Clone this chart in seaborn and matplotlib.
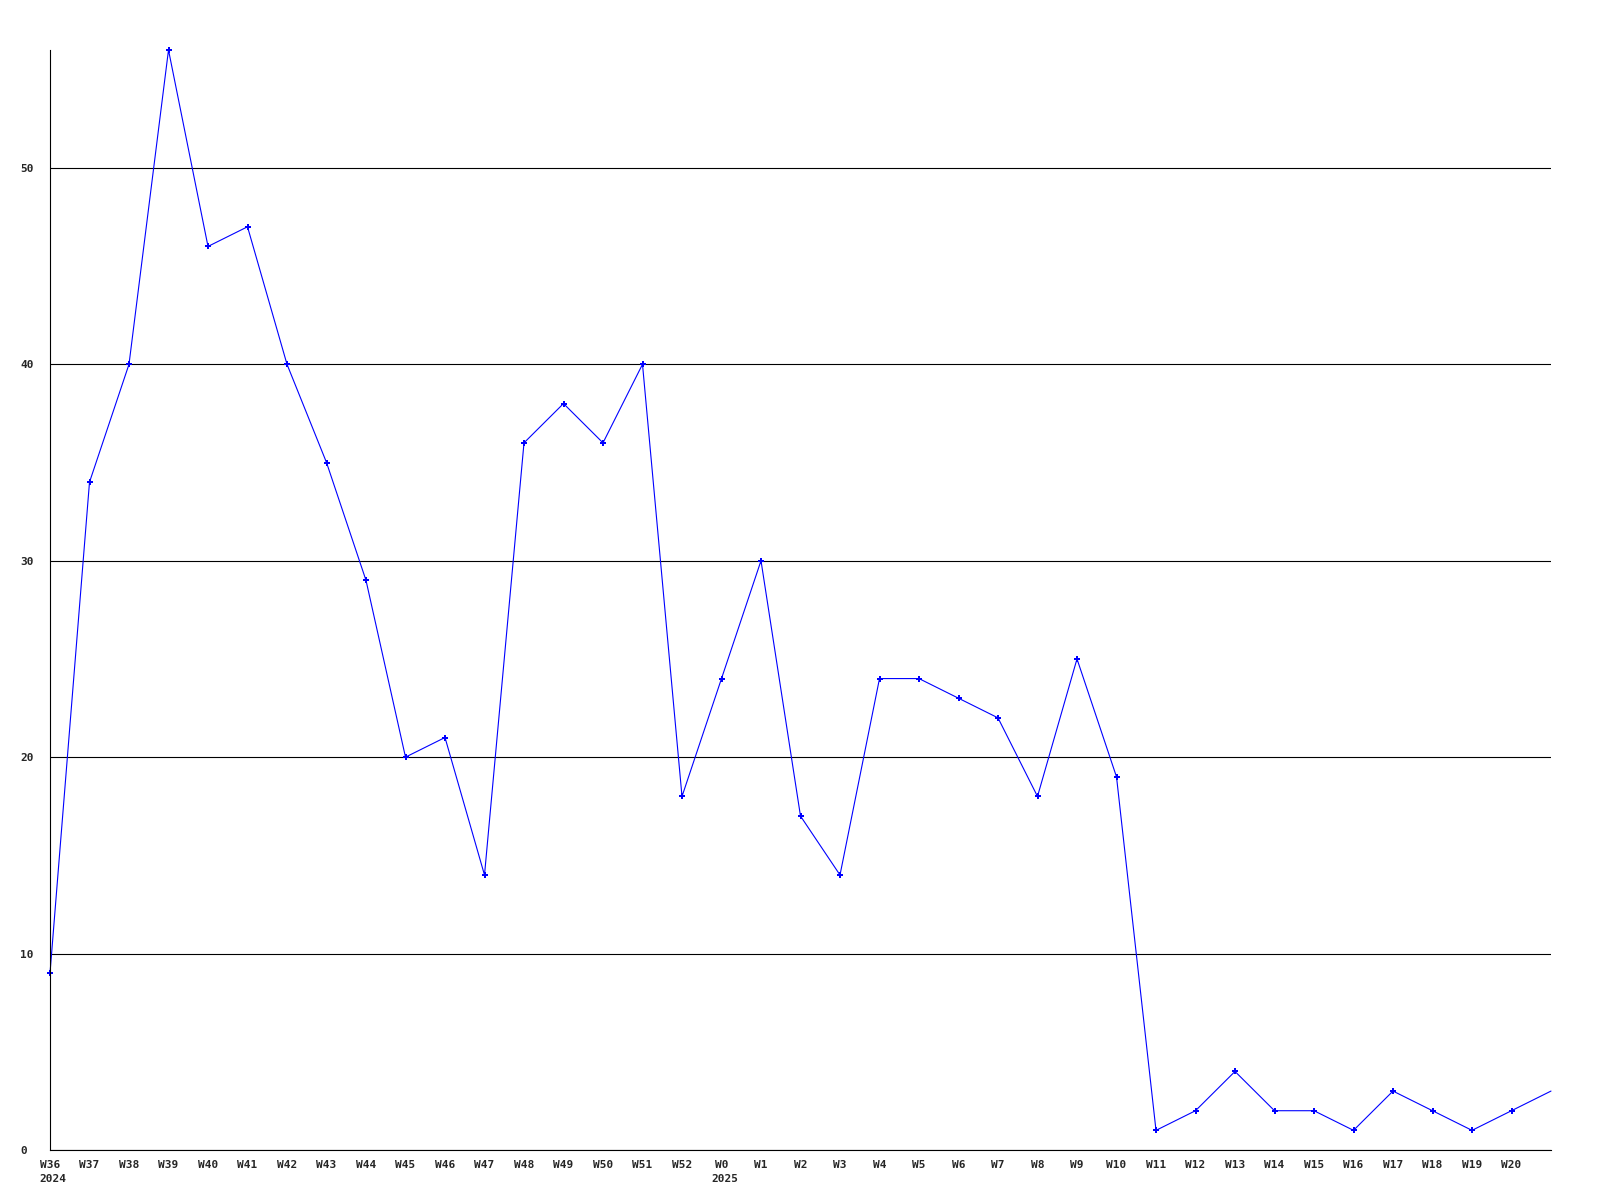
import numpy as np
import pandas as pd
import matplotlib as mpl
mpl.use('Agg')
import matplotlib.pyplot as plt
import seaborn as sns

# Weekly counts, W36 2024 .. W21 2025 (last point has no label)
week_labels = ['W36', 'W37', 'W38', 'W39', 'W40', 'W41', 'W42', 'W43', 'W44',
               'W45', 'W46', 'W47', 'W48', 'W49', 'W50', 'W51', 'W52',
               'W0', 'W1', 'W2', 'W3', 'W4', 'W5', 'W6', 'W7', 'W8', 'W9',
               'W10', 'W11', 'W12', 'W13', 'W14', 'W15', 'W16', 'W17', 'W18',
               'W19', 'W20', '']
counts = [9, 34, 40, 56, 46, 47, 40, 35, 29,
          20, 21, 14, 36, 38, 36, 40, 18,
          24, 30, 17, 14, 24, 24, 23, 22, 18, 25,
          19, 1, 2, 4, 2, 2, 1, 3, 2,
          1, 2, 3]
year_marks = {'W36': '2024', 'W0': '2025'}
y_ticks = [0, 10, 20, 30, 40, 50]

sns.set_style('white')
plt.rcParams['font.family'] = ['DejaVu Sans Mono']
plt.rcParams['font.weight'] = 'bold'

df = pd.DataFrame({'idx': np.arange(len(counts)), 'count': counts})

fig = plt.figure(figsize=(16, 12), dpi=100)
ax = fig.add_axes([50 / 1600, 50 / 1200, 1501 / 1600, 1100 / 1200])

# the trailing point (partial week) is drawn without a marker
sns.lineplot(data=df, x='idx', y='count', color='#0000ff', linewidth=0.8,
             marker='P', markersize=4, markeredgewidth=0,
             markevery=list(range(len(counts) - 1)), clip_on=False, ax=ax)

ax.set_xlim(0, len(counts) - 1)
ax.set_ylim(0, 56)
ax.set_xticks(df['idx'])
ax.set_xticklabels(week_labels, fontsize=8, fontweight='bold')
ax.set_yticks(y_ticks)
ax.set_yticklabels([str(v) for v in y_ticks], fontsize=8, fontweight='bold',
                   ha='left')
ax.tick_params(axis='x', length=0, pad=7)
ax.tick_params(axis='y', length=0, pad=21.6)
ax.set_xlabel('')
ax.set_ylabel('')

ax.grid(True, axis='y', color='black', linewidth=0.8)
ax.set_axisbelow(True)
for side in ['top', 'right']:
    ax.spines[side].set_visible(False)
for side in ['left', 'bottom']:
    ax.spines[side].set_color('black')
    ax.spines[side].set_linewidth(0.8)

# year under the first week of each year, left-aligned with the week label
for i, lab in enumerate(week_labels):
    if lab in year_marks:
        ax.annotate(year_marks[lab], xy=(i, 0), xycoords=('data', 'axes fraction'),
                    xytext=(-7.5, -17), textcoords='offset points',
                    ha='left', va='top', fontsize=8, fontweight='bold',
                    annotation_clip=False)

fig.savefig('out.png', dpi=100, facecolor='white')
